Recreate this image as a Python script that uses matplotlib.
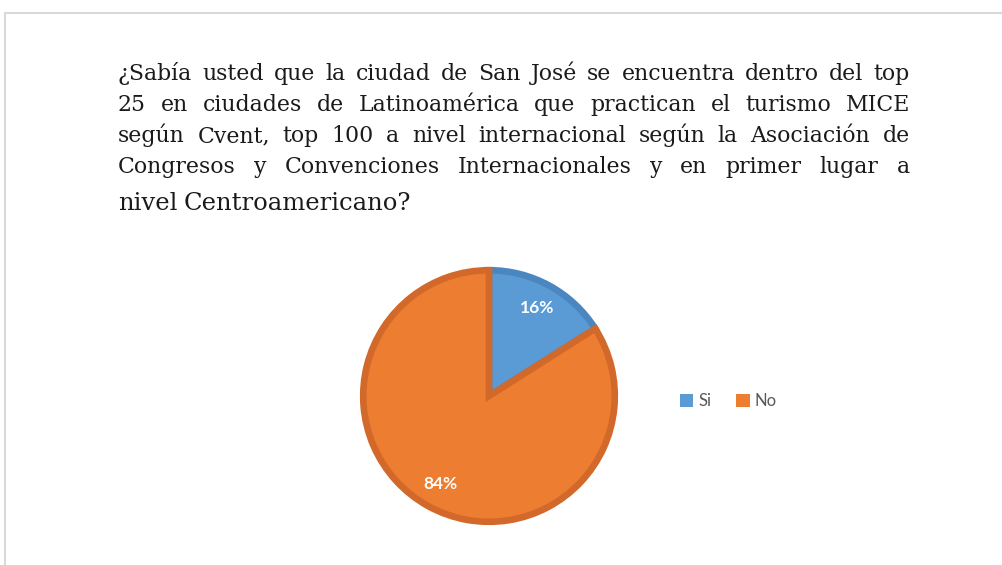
import matplotlib.pyplot as plt
from matplotlib.patches import Rectangle, Patch

# data
labels = ['Si', 'No']
values = [16, 84]
colors = ['#5b9bd5', '#ed7d31']
edges = ['#4a86bf', '#d2692a']

title_lines = [
    "¿Sabía usted que la ciudad de San José se encuentra dentro del top",
    "25 en ciudades de Latinoamérica que practican el turismo MICE",
    "según Cvent, top 100 a nivel internacional según la Asociación de",
    "Congresos y Convenciones Internacionales y en primer lugar a",
    "nivel Centroamericano?",
]

W, H = 1003, 565
fig = plt.figure(figsize=(W / 100, H / 100), dpi=100)
fig.patch.set_facecolor('white')

# light frame around the chart area
fig.add_artist(Rectangle((5 / W, -0.1), 1.2, (H - 13) / H + 0.1,
                         transform=fig.transFigure, fill=False,
                         edgecolor='#d9d9d9', linewidth=1.5))

# justified title, word by word
renderer = fig.canvas.get_renderer()
x0, x1 = 118, 910
baselines = [80, 111, 142, 173, 210]
sizes = [15.8, 15.8, 15.8, 15.8, 17.5]
for ii, (line, yb, fs) in enumerate(zip(title_lines, baselines, sizes)):
    words = line.split(' ')
    texts = [fig.text(0, 1 - yb / H, w, fontsize=fs, family='DejaVu Serif',
                      color='#1a1a1a', va='baseline', ha='left') for w in words]
    widths = [t.get_window_extent(renderer).width for t in texts]
    if ii < len(title_lines) - 1:
        gap = (x1 - x0 - sum(widths)) / (len(words) - 1)
    else:
        gap = 6.0
    x = x0
    for t, w in zip(texts, widths):
        t.set_x(x / W)
        x += w + gap

# pie
cx, cy, r = 489, 396, 129
ax = fig.add_axes([(cx - r) / W, (H - cy - r) / H, 2 * r / W, 2 * r / H])
wedges, _, autotexts = ax.pie(values, colors=colors, startangle=90, counterclock=False,
                              radius=0.975, autopct='%1.0f%%', pctdistance=0.8,
                              wedgeprops=dict(linewidth=4.8))
for wdg, ec in zip(wedges, edges):
    wdg.set_edgecolor(ec)
for t in autotexts:
    t.set_color('white')
    t.set_fontweight('bold')
    t.set_fontsize(12.5)
    t.set_family('Lato')
ax.set_xlim(-1, 1)
ax.set_ylim(-1, 1)
ax.set_aspect('equal')
ax.axis('off')

handles = [Patch(facecolor=c, edgecolor='none') for c in colors]
fig.legend(handles, labels, ncol=2, loc='center left', bbox_to_anchor=(665 / W, 1 - 401 / H),
           frameon=False, handlelength=0.8, handleheight=0.8, handletextpad=0.3,
           columnspacing=1.5, prop=dict(family='Lato', size=12), labelcolor='#595959')

fig.savefig('out.png', dpi=100, facecolor='white')
